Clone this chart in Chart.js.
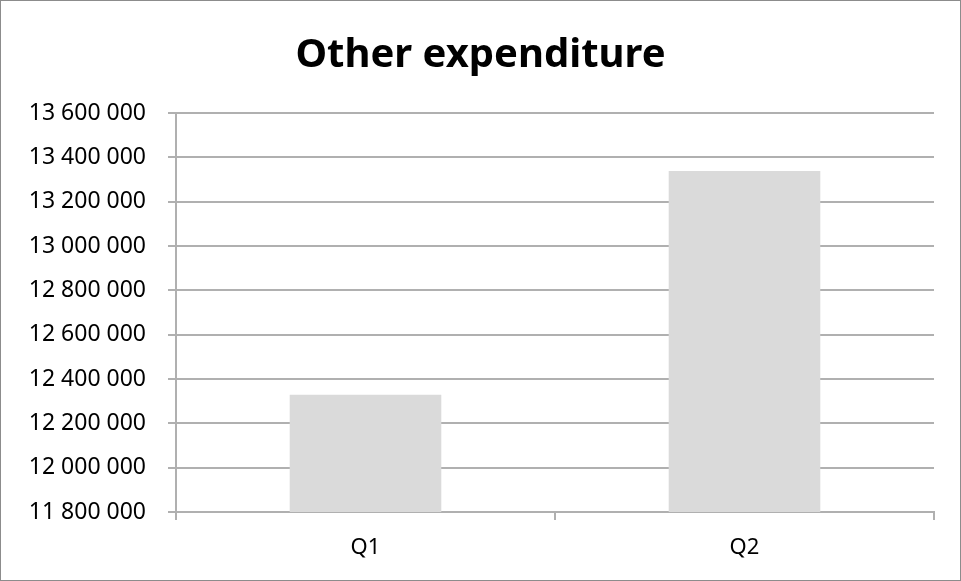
<!DOCTYPE html><html lang="en"><head><meta charset="UTF-8">
<title>Other expenditure</title>
<script src="https://cdn.jsdelivr.net/npm/chart.js"></script>
<style>
    html, body { margin: 0; padding: 0; background: white; }
    .frame {
        width: 959px;
        height: 579px;
        border: 1px solid #8c8c8c;
        position: relative;
    }
    canvas { display: block; }
</style>
</head>
<body>
    <div class="frame">
        <canvas id="chart" width="959" height="579"></canvas>
    </div>
    <script>
        // data
        const categories = ["Q1", "Q2"];
        const expenditure = [12329000, 13338000];
        const yMin = 11800000;
        const yMax = 13600000;
        const yStep = 200000;

        function spaced(v) {
            return String(v).replace(/\B(?=(\d{3})+(?!\d))/g, " ");
        }

        const font = "'Noto Sans', 'DejaVu Sans', sans-serif";
        const gridColor = "#b0b0b0";

        new Chart(document.getElementById("chart"), {
            type: "bar",
            data: {
                labels: categories,
                datasets: [{
                    label: "Other expenditure",
                    data: expenditure,
                    backgroundColor: "#dadada",
                    borderWidth: 0,
                    categoryPercentage: 1.0,
                    barPercentage: 0.4
                }]
            },
            options: {
                responsive: false,
                animation: false,
                layout: { padding: { top: 20, left: 26, right: 26, bottom: 18 } },
                plugins: {
                    legend: { display: false },
                    tooltip: { enabled: false },
                    title: {
                        display: true,
                        text: "Other expenditure",
                        color: "#000",
                        font: { family: font, size: 40, weight: "bold" },
                        padding: { top: 11, bottom: 33 }
                    }
                },
                scales: {
                    x: {
                        offset: true,
                        grid: {
                            offset: true,
                            drawOnChartArea: false,
                            drawTicks: true,
                            tickLength: 8,
                            color: gridColor,
                            lineWidth: 2
                        },
                        border: { color: gridColor, width: 2 },
                        ticks: {
                            color: "#000",
                            padding: 15,
                            font: { family: font, size: 22 }
                        },
                        afterFit: (s) => { s.height = 50; }
                    },
                    y: {
                        min: yMin,
                        max: yMax,
                        grid: {
                            color: gridColor,
                            lineWidth: 2,
                            tickLength: 8
                        },
                        border: { color: gridColor, width: 2 },
                        ticks: {
                            stepSize: yStep,
                            color: "#000",
                            padding: 22,
                            font: { family: font, size: 23 },
                            callback: (v) => spaced(v)
                        },
                        afterFit: (s) => { s.width = 149; }
                    }
                }
            }
        });
    </script>
</body>
</html>
